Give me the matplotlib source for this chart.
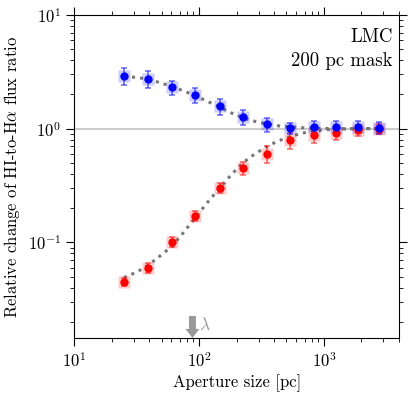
import numpy as np
import matplotlib
matplotlib.use("Agg")
import matplotlib.pyplot as plt

plt.rcParams["font.family"] = "serif"
plt.rcParams["font.serif"] = ["cmr10", "DejaVu Serif"]
plt.rcParams["mathtext.fontset"] = "cm"
plt.rcParams["axes.unicode_minus"] = False
plt.rcParams["axes.formatter.use_mathtext"] = True

# Aperture sizes [pc]
aperture = [25, 39, 60.5, 93, 146, 224, 348, 535, 828, 1247, 1871, 2754]

# Blue series (points + errors)
blue_y = [2.91, 2.75, 2.31, 1.97, 1.58, 1.27, 1.09, 1.01, 1.03, 1.03, 1.04, 1.02]
blue_err = [0.5, 0.45, 0.33, 0.3, 0.25, 0.2, 0.16, 0.12, 0.13, 0.13, 0.13, 0.12]

# Red series (points + errors)
red_y = [0.045, 0.060, 0.101, 0.171, 0.303, 0.454, 0.599, 0.791, 0.875, 0.917, 0.968, 1.0]
red_err = [0.004, 0.006, 0.01, 0.017, 0.03, 0.06, 0.1, 0.13, 0.13, 0.12, 0.11, 0.1]

# dotted model curves
curve_x = [25, 32, 39, 48, 60.5, 75, 93, 117, 146, 180, 224, 280, 348, 430, 535, 660, 828, 1000, 1247, 1600, 2000, 2754]
blue_curve = [2.88, 2.82, 2.72, 2.55, 2.35, 2.15, 1.95, 1.74, 1.55, 1.38, 1.25, 1.16, 1.10, 1.06, 1.04, 1.02, 1.01, 1.005, 1.0, 1.0, 1.0, 1.0]
red_curve = [0.049, 0.055, 0.063, 0.075, 0.092, 0.122, 0.164, 0.225, 0.30, 0.39, 0.50, 0.60, 0.695, 0.78, 0.85, 0.91, 0.955, 0.975, 0.99, 0.995, 1.0, 1.0]

lambda_scale = 88.5

fig = plt.figure(figsize=(4.15, 3.97), dpi=100)
ax = fig.add_axes([0.179, 0.1486, 0.7824, 0.8136])

ax.axhline(1.0, color="#cccccc", lw=1.5, zorder=0)

ax.plot(curve_x, blue_curve, ls=":", color="#777777", lw=2.2, zorder=1)
ax.plot(curve_x, red_curve, ls=":", color="#777777", lw=2.2, zorder=1)

for y, err, c in [(red_y, red_err, "red"), (blue_y, blue_err, "blue")]:
    ax.errorbar(aperture, y, yerr=err, fmt="none", ecolor=c, alpha=0.55,
                elinewidth=1.2, capsize=2.5, capthick=1.2, zorder=2)
    ax.plot(aperture, y, "s", color=c, ms=8.5, alpha=0.2, mec="none", zorder=3)
    ax.plot(aperture, y, "o", color=c, ms=6, mec="none", zorder=4)

ax.set_xscale("log")
ax.set_yscale("log")
ax.set_xlim(10, 4000)
ax.set_ylim(0.0144, 10)

ax.tick_params(which="both", direction="out", top=True, right=True, labelsize=12)
ax.tick_params(which="major", length=6)
ax.tick_params(which="minor", length=3)

ax.set_xlabel("Aperture size [pc]", fontsize=12, labelpad=3)
ax.set_ylabel(r"Relative change of HI-to-H$\alpha$ flux ratio", fontsize=12)

ax.text(0.981, 0.96, "LMC", transform=ax.transAxes, ha="right", va="top", fontsize=13.5)
ax.text(0.981, 0.885, "200 pc mask", transform=ax.transAxes, ha="right", va="top", fontsize=13.5)

ax.annotate("", xy=(lambda_scale, 0.0144), xytext=(lambda_scale, 0.0225),
            arrowprops=dict(arrowstyle="simple,head_width=1.0,head_length=0.65,tail_width=0.5",
                            color="#999999", lw=0, shrinkA=0, shrinkB=0))
ax.text(99, 0.0188, r"$\lambda$", color="#999999", fontsize=12.5, ha="left", va="center")

fig.savefig("out.png", dpi=100)
